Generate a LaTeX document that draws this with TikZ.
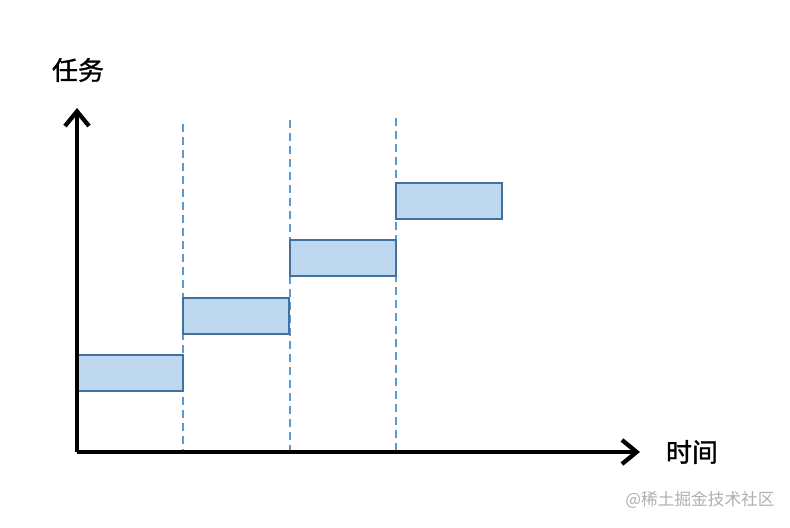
\documentclass[tikz,border=0pt]{standalone}
\usepackage{fontspec}
\newfontfamily\cjk{Noto Sans CJK SC}
\newfontfamily\cjkheavy[FakeBold=1.2]{Noto Sans CJK SC}
\usetikzlibrary{arrows.meta}
\definecolor{boxfill}{RGB}{189,215,238}
\definecolor{boxline}{RGB}{65,113,156}
\definecolor{divline}{RGB}{91,155,213}
\definecolor{markgray}{RGB}{175,175,175}
\begin{document}
\begin{tikzpicture}[x=0.75pt, y=-0.75pt,
	task/.style={rectangle, draw=boxline, fill=boxfill, line width=1.5pt, minimum width=79.5pt, minimum height=27pt, inner sep=0pt, outer sep=0pt, anchor=north west},
	axis/.style={line width=3.2pt, -{Straight Barb[length=11pt, width=18pt]}},
	divider/.style={draw=divline, line width=1pt, dash pattern=on 6pt off 3.75pt},
	label/.style={font=\cjkheavy\fontsize{19.5}{19.5}\selectfont, inner sep=0pt}]

	\useasboundingbox (0,0) rectangle (790,528);

	% dashed time steps
	\coordinate (t1top) at (183,124);
	\coordinate (t2top) at (290,120);
	\coordinate (t3top) at (396,118);
	\coordinate (t1bot) at (183,452);
	\coordinate (t2bot) at (290,452);
	\coordinate (t3bot) at (396,452);
	\draw [divider] (t1top) -- (t1bot);
	\draw [divider] (t2top) -- (t2bot);
	\draw [divider] (t3top) -- (t3bot);

	% tasks
	\node (task1) [task] at (77,355) {};
	\node (task2) [task] at (183,298) {};
	\node (task3) [task] at (290,240) {};
	\node (task4) [task] at (396,183) {};

	% axes
	\coordinate (origin) at (77,452);
	\coordinate (ytip) at (77,108);
	\coordinate (xtip) at (640,452);
	\draw [axis] (origin) -- (ytip);
	\draw [axis] (origin) -- (xtip);

	\node (ylabel) [label] at (78,70) {任务};
	\node (xlabel) [label] at (692,452) {时间};
	\node (mark) [font=\cjk\fontsize{12.5}{12.5}\selectfont, text=markgray, inner sep=0pt] at (700,500) {@稀土掘金技术社区};
\end{tikzpicture}
\end{document}
